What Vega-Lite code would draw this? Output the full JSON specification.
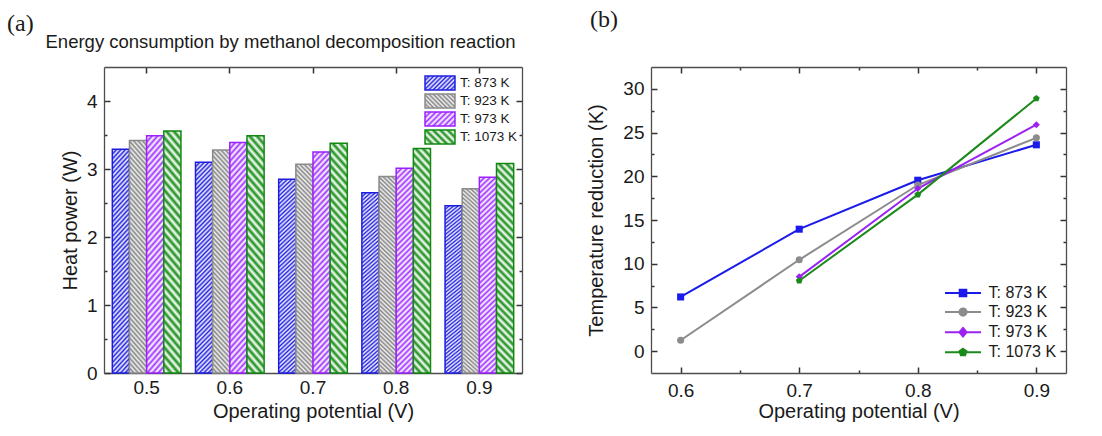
{
"$schema": "https://vega.github.io/schema/vega-lite/v6.json",
"background": "white",
"padding": {"left": 7, "top": 8, "right": 5, "bottom": 5},
"config": {
  "font": "Liberation Sans",
  "view": {"stroke": null},
  "title": {"font": "Liberation Serif", "fontSize": 24, "fontWeight": "normal", "color": "#1a1a1a"},
  "axis": {"labelFont": "Liberation Sans", "titleFont": "Liberation Sans", "labelColor": "#1a1a1a", "titleColor": "#1a1a1a", "domainColor": "#4d4d4d", "domainWidth": 1.3, "tickColor": "#333333", "tickWidth": 1.5, "grid": false, "labelFontSize": 19, "titleFontSize": 20, "titleFontWeight": "normal", "labelFlush": false},
  "legend": {"labelFont": "Liberation Sans", "labelColor": "#1a1a1a", "padding": 0}
},
"spacing": 63,
"resolve": {"scale": {"stroke": "independent", "color": "independent", "fill": "independent", "shape": "independent"}, "legend": {"stroke": "independent", "color": "independent", "fill": "independent", "shape": "independent"}},
"hconcat": [
{
  "width": 418, "height": 306,
  "title": {"text": "(a)", "anchor": "start", "frame": "group", "dx": -97, "offset": -4},
  "data": {"values": [
    {"V": "0.5", "T": "T: 873 K", "P": 3.29}, {"V": "0.5", "T": "T: 923 K", "P": 3.42}, {"V": "0.5", "T": "T: 973 K", "P": 3.49}, {"V": "0.5", "T": "T: 1073 K", "P": 3.56},
    {"V": "0.6", "T": "T: 873 K", "P": 3.10}, {"V": "0.6", "T": "T: 923 K", "P": 3.28}, {"V": "0.6", "T": "T: 973 K", "P": 3.39}, {"V": "0.6", "T": "T: 1073 K", "P": 3.49},
    {"V": "0.7", "T": "T: 873 K", "P": 2.85}, {"V": "0.7", "T": "T: 923 K", "P": 3.07}, {"V": "0.7", "T": "T: 973 K", "P": 3.25}, {"V": "0.7", "T": "T: 1073 K", "P": 3.38},
    {"V": "0.8", "T": "T: 873 K", "P": 2.65}, {"V": "0.8", "T": "T: 923 K", "P": 2.89}, {"V": "0.8", "T": "T: 973 K", "P": 3.01}, {"V": "0.8", "T": "T: 1073 K", "P": 3.30},
    {"V": "0.9", "T": "T: 873 K", "P": 2.46}, {"V": "0.9", "T": "T: 923 K", "P": 2.71}, {"V": "0.9", "T": "T: 973 K", "P": 2.88}, {"V": "0.9", "T": "T: 1073 K", "P": 3.08}
  ]},
  "layer": [
    {
      "mark": {"type": "bar", "strokeWidth": 1.5},
      "encoding": {
        "x": {"field": "V", "type": "nominal", "scale": {"paddingInner": 0.175, "paddingOuter": 0.1},
              "axis": {"orient": "bottom", "labelAngle": 0, "ticks": false, "labelPadding": 5, "title": "Operating potential (V)", "titlePadding": 4}},
        "xOffset": {"field": "T", "type": "nominal", "scale": {"domain": ["T: 873 K", "T: 923 K", "T: 973 K", "T: 1073 K"], "paddingInner": 0, "paddingOuter": 0}},
        "y": {"field": "P", "type": "quantitative", "scale": {"domain": [0, 4.5], "nice": false},
              "axis": {"orient": "left", "values": [0, 0.5, 1, 1.5, 2, 2.5, 3, 3.5, 4], "labelExpr": "datum.value % 1 === 0 ? format(datum.value, 'd') : ''", "tickSize": {"condition": {"test": "datum.value % 1 === 0", "value": -6}, "value": -3}, "labelPadding": 13, "title": "Heat power (W)", "titlePadding": 6}},
        "stroke": {"condition": [{"test": "datum.T === 'T: 873 K'", "value": "#1c1ce0"}, {"test": "datum.T === 'T: 923 K'", "value": "#8a8a8a"}, {"test": "datum.T === 'T: 973 K'", "value": "#9b1fff"}], "value": "#128812"},
        "fill": {"condition": [
          {"test": "datum.T === 'T: 873 K'", "value": {"gradient": "linear", "x1": 0, "y1": 0, "x2": 0.0897, "y2": 1.0759, "stops": [
            {"offset":0,"color":"#2424e0"},{"offset":0.01,"color":"#f4f4ff"},{"offset":0.02,"color":"#2424e0"},{"offset":0.03,"color":"#f4f4ff"},{"offset":0.04,"color":"#2424e0"},{"offset":0.05,"color":"#f4f4ff"},{"offset":0.06,"color":"#2424e0"},{"offset":0.07,"color":"#f4f4ff"},{"offset":0.08,"color":"#2424e0"},{"offset":0.09,"color":"#f4f4ff"},
            {"offset":0.1,"color":"#2424e0"},{"offset":0.11,"color":"#f4f4ff"},{"offset":0.12,"color":"#2424e0"},{"offset":0.13,"color":"#f4f4ff"},{"offset":0.14,"color":"#2424e0"},{"offset":0.15,"color":"#f4f4ff"},{"offset":0.16,"color":"#2424e0"},{"offset":0.17,"color":"#f4f4ff"},{"offset":0.18,"color":"#2424e0"},{"offset":0.19,"color":"#f4f4ff"},
            {"offset":0.2,"color":"#2424e0"},{"offset":0.21,"color":"#f4f4ff"},{"offset":0.22,"color":"#2424e0"},{"offset":0.23,"color":"#f4f4ff"},{"offset":0.24,"color":"#2424e0"},{"offset":0.25,"color":"#f4f4ff"},{"offset":0.26,"color":"#2424e0"},{"offset":0.27,"color":"#f4f4ff"},{"offset":0.28,"color":"#2424e0"},{"offset":0.29,"color":"#f4f4ff"},
            {"offset":0.3,"color":"#2424e0"},{"offset":0.31,"color":"#f4f4ff"},{"offset":0.32,"color":"#2424e0"},{"offset":0.33,"color":"#f4f4ff"},{"offset":0.34,"color":"#2424e0"},{"offset":0.35,"color":"#f4f4ff"},{"offset":0.36,"color":"#2424e0"},{"offset":0.37,"color":"#f4f4ff"},{"offset":0.38,"color":"#2424e0"},{"offset":0.39,"color":"#f4f4ff"},
            {"offset":0.4,"color":"#2424e0"},{"offset":0.41,"color":"#f4f4ff"},{"offset":0.42,"color":"#2424e0"},{"offset":0.43,"color":"#f4f4ff"},{"offset":0.44,"color":"#2424e0"},{"offset":0.45,"color":"#f4f4ff"},{"offset":0.46,"color":"#2424e0"},{"offset":0.47,"color":"#f4f4ff"},{"offset":0.48,"color":"#2424e0"},{"offset":0.49,"color":"#f4f4ff"},
            {"offset":0.5,"color":"#2424e0"},{"offset":0.51,"color":"#f4f4ff"},{"offset":0.52,"color":"#2424e0"},{"offset":0.53,"color":"#f4f4ff"},{"offset":0.54,"color":"#2424e0"},{"offset":0.55,"color":"#f4f4ff"},{"offset":0.56,"color":"#2424e0"},{"offset":0.57,"color":"#f4f4ff"},{"offset":0.58,"color":"#2424e0"},{"offset":0.59,"color":"#f4f4ff"},
            {"offset":0.6,"color":"#2424e0"},{"offset":0.61,"color":"#f4f4ff"},{"offset":0.62,"color":"#2424e0"},{"offset":0.63,"color":"#f4f4ff"},{"offset":0.64,"color":"#2424e0"},{"offset":0.65,"color":"#f4f4ff"},{"offset":0.66,"color":"#2424e0"},{"offset":0.67,"color":"#f4f4ff"},{"offset":0.68,"color":"#2424e0"},{"offset":0.69,"color":"#f4f4ff"},
            {"offset":0.7,"color":"#2424e0"},{"offset":0.71,"color":"#f4f4ff"},{"offset":0.72,"color":"#2424e0"},{"offset":0.73,"color":"#f4f4ff"},{"offset":0.74,"color":"#2424e0"},{"offset":0.75,"color":"#f4f4ff"},{"offset":0.76,"color":"#2424e0"},{"offset":0.77,"color":"#f4f4ff"},{"offset":0.78,"color":"#2424e0"},{"offset":0.79,"color":"#f4f4ff"},
            {"offset":0.8,"color":"#2424e0"},{"offset":0.81,"color":"#f4f4ff"},{"offset":0.82,"color":"#2424e0"},{"offset":0.83,"color":"#f4f4ff"},{"offset":0.84,"color":"#2424e0"},{"offset":0.85,"color":"#f4f4ff"},{"offset":0.86,"color":"#2424e0"},{"offset":0.87,"color":"#f4f4ff"},{"offset":0.88,"color":"#2424e0"},{"offset":0.89,"color":"#f4f4ff"},
            {"offset":0.9,"color":"#2424e0"},{"offset":0.91,"color":"#f4f4ff"},{"offset":0.92,"color":"#2424e0"},{"offset":0.93,"color":"#f4f4ff"},{"offset":0.94,"color":"#2424e0"},{"offset":0.95,"color":"#f4f4ff"},{"offset":0.96,"color":"#2424e0"},{"offset":0.97,"color":"#f4f4ff"},{"offset":0.98,"color":"#2424e0"},{"offset":0.99,"color":"#f4f4ff"},{"offset":1,"color":"#2424e0"}]}},
          {"test": "datum.T === 'T: 923 K'", "value": {"gradient": "linear", "x1": 1, "y1": 0, "x2": 0.9103, "y2": 1.0759, "stops": [
            {"offset":0,"color":"#858585"},{"offset":0.01,"color":"#f2f2f2"},{"offset":0.02,"color":"#858585"},{"offset":0.03,"color":"#f2f2f2"},{"offset":0.04,"color":"#858585"},{"offset":0.05,"color":"#f2f2f2"},{"offset":0.06,"color":"#858585"},{"offset":0.07,"color":"#f2f2f2"},{"offset":0.08,"color":"#858585"},{"offset":0.09,"color":"#f2f2f2"},
            {"offset":0.1,"color":"#858585"},{"offset":0.11,"color":"#f2f2f2"},{"offset":0.12,"color":"#858585"},{"offset":0.13,"color":"#f2f2f2"},{"offset":0.14,"color":"#858585"},{"offset":0.15,"color":"#f2f2f2"},{"offset":0.16,"color":"#858585"},{"offset":0.17,"color":"#f2f2f2"},{"offset":0.18,"color":"#858585"},{"offset":0.19,"color":"#f2f2f2"},
            {"offset":0.2,"color":"#858585"},{"offset":0.21,"color":"#f2f2f2"},{"offset":0.22,"color":"#858585"},{"offset":0.23,"color":"#f2f2f2"},{"offset":0.24,"color":"#858585"},{"offset":0.25,"color":"#f2f2f2"},{"offset":0.26,"color":"#858585"},{"offset":0.27,"color":"#f2f2f2"},{"offset":0.28,"color":"#858585"},{"offset":0.29,"color":"#f2f2f2"},
            {"offset":0.3,"color":"#858585"},{"offset":0.31,"color":"#f2f2f2"},{"offset":0.32,"color":"#858585"},{"offset":0.33,"color":"#f2f2f2"},{"offset":0.34,"color":"#858585"},{"offset":0.35,"color":"#f2f2f2"},{"offset":0.36,"color":"#858585"},{"offset":0.37,"color":"#f2f2f2"},{"offset":0.38,"color":"#858585"},{"offset":0.39,"color":"#f2f2f2"},
            {"offset":0.4,"color":"#858585"},{"offset":0.41,"color":"#f2f2f2"},{"offset":0.42,"color":"#858585"},{"offset":0.43,"color":"#f2f2f2"},{"offset":0.44,"color":"#858585"},{"offset":0.45,"color":"#f2f2f2"},{"offset":0.46,"color":"#858585"},{"offset":0.47,"color":"#f2f2f2"},{"offset":0.48,"color":"#858585"},{"offset":0.49,"color":"#f2f2f2"},
            {"offset":0.5,"color":"#858585"},{"offset":0.51,"color":"#f2f2f2"},{"offset":0.52,"color":"#858585"},{"offset":0.53,"color":"#f2f2f2"},{"offset":0.54,"color":"#858585"},{"offset":0.55,"color":"#f2f2f2"},{"offset":0.56,"color":"#858585"},{"offset":0.57,"color":"#f2f2f2"},{"offset":0.58,"color":"#858585"},{"offset":0.59,"color":"#f2f2f2"},
            {"offset":0.6,"color":"#858585"},{"offset":0.61,"color":"#f2f2f2"},{"offset":0.62,"color":"#858585"},{"offset":0.63,"color":"#f2f2f2"},{"offset":0.64,"color":"#858585"},{"offset":0.65,"color":"#f2f2f2"},{"offset":0.66,"color":"#858585"},{"offset":0.67,"color":"#f2f2f2"},{"offset":0.68,"color":"#858585"},{"offset":0.69,"color":"#f2f2f2"},
            {"offset":0.7,"color":"#858585"},{"offset":0.71,"color":"#f2f2f2"},{"offset":0.72,"color":"#858585"},{"offset":0.73,"color":"#f2f2f2"},{"offset":0.74,"color":"#858585"},{"offset":0.75,"color":"#f2f2f2"},{"offset":0.76,"color":"#858585"},{"offset":0.77,"color":"#f2f2f2"},{"offset":0.78,"color":"#858585"},{"offset":0.79,"color":"#f2f2f2"},
            {"offset":0.8,"color":"#858585"},{"offset":0.81,"color":"#f2f2f2"},{"offset":0.82,"color":"#858585"},{"offset":0.83,"color":"#f2f2f2"},{"offset":0.84,"color":"#858585"},{"offset":0.85,"color":"#f2f2f2"},{"offset":0.86,"color":"#858585"},{"offset":0.87,"color":"#f2f2f2"},{"offset":0.88,"color":"#858585"},{"offset":0.89,"color":"#f2f2f2"},
            {"offset":0.9,"color":"#858585"},{"offset":0.91,"color":"#f2f2f2"},{"offset":0.92,"color":"#858585"},{"offset":0.93,"color":"#f2f2f2"},{"offset":0.94,"color":"#858585"},{"offset":0.95,"color":"#f2f2f2"},{"offset":0.96,"color":"#858585"},{"offset":0.97,"color":"#f2f2f2"},{"offset":0.98,"color":"#858585"},{"offset":0.99,"color":"#f2f2f2"},{"offset":1,"color":"#858585"}]}},
          {"test": "datum.T === 'T: 973 K'", "value": {"gradient": "linear", "x1": 0, "y1": 0, "x2": 0.0897, "y2": 1.0759, "stops": [
            {"offset":0,"color":"#a235ff"},{"offset":0.0125,"color":"#fff"},{"offset":0.025,"color":"#a235ff"},{"offset":0.0375,"color":"#fff"},{"offset":0.05,"color":"#a235ff"},{"offset":0.0625,"color":"#fff"},{"offset":0.075,"color":"#a235ff"},{"offset":0.0875,"color":"#fff"},
            {"offset":0.1,"color":"#a235ff"},{"offset":0.1125,"color":"#fff"},{"offset":0.125,"color":"#a235ff"},{"offset":0.1375,"color":"#fff"},{"offset":0.15,"color":"#a235ff"},{"offset":0.1625,"color":"#fff"},{"offset":0.175,"color":"#a235ff"},{"offset":0.1875,"color":"#fff"},
            {"offset":0.2,"color":"#a235ff"},{"offset":0.2125,"color":"#fff"},{"offset":0.225,"color":"#a235ff"},{"offset":0.2375,"color":"#fff"},{"offset":0.25,"color":"#a235ff"},{"offset":0.2625,"color":"#fff"},{"offset":0.275,"color":"#a235ff"},{"offset":0.2875,"color":"#fff"},
            {"offset":0.3,"color":"#a235ff"},{"offset":0.3125,"color":"#fff"},{"offset":0.325,"color":"#a235ff"},{"offset":0.3375,"color":"#fff"},{"offset":0.35,"color":"#a235ff"},{"offset":0.3625,"color":"#fff"},{"offset":0.375,"color":"#a235ff"},{"offset":0.3875,"color":"#fff"},
            {"offset":0.4,"color":"#a235ff"},{"offset":0.4125,"color":"#fff"},{"offset":0.425,"color":"#a235ff"},{"offset":0.4375,"color":"#fff"},{"offset":0.45,"color":"#a235ff"},{"offset":0.4625,"color":"#fff"},{"offset":0.475,"color":"#a235ff"},{"offset":0.4875,"color":"#fff"},
            {"offset":0.5,"color":"#a235ff"},{"offset":0.5125,"color":"#fff"},{"offset":0.525,"color":"#a235ff"},{"offset":0.5375,"color":"#fff"},{"offset":0.55,"color":"#a235ff"},{"offset":0.5625,"color":"#fff"},{"offset":0.575,"color":"#a235ff"},{"offset":0.5875,"color":"#fff"},
            {"offset":0.6,"color":"#a235ff"},{"offset":0.6125,"color":"#fff"},{"offset":0.625,"color":"#a235ff"},{"offset":0.6375,"color":"#fff"},{"offset":0.65,"color":"#a235ff"},{"offset":0.6625,"color":"#fff"},{"offset":0.675,"color":"#a235ff"},{"offset":0.6875,"color":"#fff"},
            {"offset":0.7,"color":"#a235ff"},{"offset":0.7125,"color":"#fff"},{"offset":0.725,"color":"#a235ff"},{"offset":0.7375,"color":"#fff"},{"offset":0.75,"color":"#a235ff"},{"offset":0.7625,"color":"#fff"},{"offset":0.775,"color":"#a235ff"},{"offset":0.7875,"color":"#fff"},
            {"offset":0.8,"color":"#a235ff"},{"offset":0.8125,"color":"#fff"},{"offset":0.825,"color":"#a235ff"},{"offset":0.8375,"color":"#fff"},{"offset":0.85,"color":"#a235ff"},{"offset":0.8625,"color":"#fff"},{"offset":0.875,"color":"#a235ff"},{"offset":0.8875,"color":"#fff"},
            {"offset":0.9,"color":"#a235ff"},{"offset":0.9125,"color":"#fff"},{"offset":0.925,"color":"#a235ff"},{"offset":0.9375,"color":"#fff"},{"offset":0.95,"color":"#a235ff"},{"offset":0.9625,"color":"#fff"},{"offset":0.975,"color":"#a235ff"},{"offset":0.9875,"color":"#fff"},{"offset":1,"color":"#a235ff"}]}}
        ],
        "value": {"gradient": "linear", "x1": 1, "y1": 0, "x2": 0.9103, "y2": 1.0759, "stops": [
            {"offset":0,"color":"#158c15"},{"offset":0.0167,"color":"#fff"},{"offset":0.0333,"color":"#158c15"},{"offset":0.05,"color":"#fff"},{"offset":0.0667,"color":"#158c15"},{"offset":0.0833,"color":"#fff"},
            {"offset":0.1,"color":"#158c15"},{"offset":0.1167,"color":"#fff"},{"offset":0.1333,"color":"#158c15"},{"offset":0.15,"color":"#fff"},{"offset":0.1667,"color":"#158c15"},{"offset":0.1833,"color":"#fff"},
            {"offset":0.2,"color":"#158c15"},{"offset":0.2167,"color":"#fff"},{"offset":0.2333,"color":"#158c15"},{"offset":0.25,"color":"#fff"},{"offset":0.2667,"color":"#158c15"},{"offset":0.2833,"color":"#fff"},
            {"offset":0.3,"color":"#158c15"},{"offset":0.3167,"color":"#fff"},{"offset":0.3333,"color":"#158c15"},{"offset":0.35,"color":"#fff"},{"offset":0.3667,"color":"#158c15"},{"offset":0.3833,"color":"#fff"},
            {"offset":0.4,"color":"#158c15"},{"offset":0.4167,"color":"#fff"},{"offset":0.4333,"color":"#158c15"},{"offset":0.45,"color":"#fff"},{"offset":0.4667,"color":"#158c15"},{"offset":0.4833,"color":"#fff"},
            {"offset":0.5,"color":"#158c15"},{"offset":0.5167,"color":"#fff"},{"offset":0.5333,"color":"#158c15"},{"offset":0.55,"color":"#fff"},{"offset":0.5667,"color":"#158c15"},{"offset":0.5833,"color":"#fff"},
            {"offset":0.6,"color":"#158c15"},{"offset":0.6167,"color":"#fff"},{"offset":0.6333,"color":"#158c15"},{"offset":0.65,"color":"#fff"},{"offset":0.6667,"color":"#158c15"},{"offset":0.6833,"color":"#fff"},
            {"offset":0.7,"color":"#158c15"},{"offset":0.7167,"color":"#fff"},{"offset":0.7333,"color":"#158c15"},{"offset":0.75,"color":"#fff"},{"offset":0.7667,"color":"#158c15"},{"offset":0.7833,"color":"#fff"},
            {"offset":0.8,"color":"#158c15"},{"offset":0.8167,"color":"#fff"},{"offset":0.8333,"color":"#158c15"},{"offset":0.85,"color":"#fff"},{"offset":0.8667,"color":"#158c15"},{"offset":0.8833,"color":"#fff"},
            {"offset":0.9,"color":"#158c15"},{"offset":0.9167,"color":"#fff"},{"offset":0.9333,"color":"#158c15"},{"offset":0.95,"color":"#fff"},{"offset":0.9667,"color":"#158c15"},{"offset":0.9833,"color":"#fff"},{"offset":1,"color":"#158c15"}]}}
      }
    },
    {
      "mark": {"type": "line", "opacity": 0, "strokeWidth": 1.5},
      "encoding": {
        "x": {"field": "V", "type": "nominal", "axis": {"orient": "top", "labels": false, "ticks": true, "tickSize": -6, "title": "Energy consumption by methanol decomposition reaction", "titleFontSize": 18.5, "titleX": 176, "titleY": -20, "titleAlign": "center", "titleBaseline": "alphabetic"}},
        "y": {"field": "P", "type": "quantitative", "axis": {"orient": "right", "labels": false, "values": [0, 0.5, 1, 1.5, 2, 2.5, 3, 3.5, 4], "tickSize": {"condition": {"test": "datum.value % 1 === 0", "value": -6}, "value": -3}, "title": null}},
        "stroke": {"field": "T", "type": "nominal", "scale": {"domain": ["T: 873 K", "T: 923 K", "T: 973 K", "T: 1073 K"], "range": ["#1c1ce0", "#8a8a8a", "#9b1fff", "#128812"]},
          "legend": {"title": null, "orient": "none", "legendX": 328, "legendY": 8, "symbolType": "M-2.14,-1H2.14V1H-2.14Z", "symbolSize": 196, "symbolStrokeWidth": 1.5, "symbolOpacity": 1, "labelFontSize": 13.5, "labelOffset": 12, "rowPadding": -5,
            "encode": {"symbols": {"update": {"opacity": {"value": 1}, "strokeWidth": {"value": 1.5}, "fill": {"signal": "datum.value === 'T: 873 K' ? {gradient:'linear',x1:0,y1:0,x2:1.204,y2:0.562,stops:[{offset:0,color:'#2424e0'},{offset:0.05,color:'#f4f4ff'},{offset:0.1,color:'#2424e0'},{offset:0.15,color:'#f4f4ff'},{offset:0.2,color:'#2424e0'},{offset:0.25,color:'#f4f4ff'},{offset:0.3,color:'#2424e0'},{offset:0.35,color:'#f4f4ff'},{offset:0.4,color:'#2424e0'},{offset:0.45,color:'#f4f4ff'},{offset:0.5,color:'#2424e0'},{offset:0.55,color:'#f4f4ff'},{offset:0.6,color:'#2424e0'},{offset:0.65,color:'#f4f4ff'},{offset:0.7,color:'#2424e0'},{offset:0.75,color:'#f4f4ff'},{offset:0.8,color:'#2424e0'},{offset:0.85,color:'#f4f4ff'},{offset:0.9,color:'#2424e0'},{offset:0.95,color:'#f4f4ff'},{offset:1,color:'#2424e0'}]} : datum.value === 'T: 923 K' ? {gradient:'linear',x1:1,y1:0,x2:-0.204,y2:0.562,stops:[{offset:0,color:'#858585'},{offset:0.05,color:'#f2f2f2'},{offset:0.1,color:'#858585'},{offset:0.15,color:'#f2f2f2'},{offset:0.2,color:'#858585'},{offset:0.25,color:'#f2f2f2'},{offset:0.3,color:'#858585'},{offset:0.35,color:'#f2f2f2'},{offset:0.4,color:'#858585'},{offset:0.45,color:'#f2f2f2'},{offset:0.5,color:'#858585'},{offset:0.55,color:'#f2f2f2'},{offset:0.6,color:'#858585'},{offset:0.65,color:'#f2f2f2'},{offset:0.7,color:'#858585'},{offset:0.75,color:'#f2f2f2'},{offset:0.8,color:'#858585'},{offset:0.85,color:'#f2f2f2'},{offset:0.9,color:'#858585'},{offset:0.95,color:'#f2f2f2'},{offset:1,color:'#858585'}]} : datum.value === 'T: 973 K' ? {gradient:'linear',x1:0,y1:0,x2:1.204,y2:0.562,stops:[{offset:0,color:'#a235ff'},{offset:0.0625,color:'#fff'},{offset:0.125,color:'#a235ff'},{offset:0.1875,color:'#fff'},{offset:0.25,color:'#a235ff'},{offset:0.3125,color:'#fff'},{offset:0.375,color:'#a235ff'},{offset:0.4375,color:'#fff'},{offset:0.5,color:'#a235ff'},{offset:0.5625,color:'#fff'},{offset:0.625,color:'#a235ff'},{offset:0.6875,color:'#fff'},{offset:0.75,color:'#a235ff'},{offset:0.8125,color:'#fff'},{offset:0.875,color:'#a235ff'},{offset:0.9375,color:'#fff'},{offset:1,color:'#a235ff'}]} : {gradient:'linear',x1:1,y1:0,x2:-0.204,y2:0.562,stops:[{offset:0,color:'#158c15'},{offset:0.0833,color:'#fff'},{offset:0.1667,color:'#158c15'},{offset:0.25,color:'#fff'},{offset:0.3333,color:'#158c15'},{offset:0.4167,color:'#fff'},{offset:0.5,color:'#158c15'},{offset:0.5833,color:'#fff'},{offset:0.6667,color:'#158c15'},{offset:0.75,color:'#fff'},{offset:0.8333,color:'#158c15'},{offset:0.9167,color:'#fff'},{offset:1,color:'#158c15'}]}"}}}}}}
      }
    }
  ],
  "resolve": {"axis": {"x": "independent", "y": "independent"}}
},
{
  "width": 415, "height": 306,
  "title": {"text": "(b)", "anchor": "start", "frame": "group", "dx": -61, "offset": 34},
  "data": {"values": [
    {"V": 0.6, "T": "T: 873 K", "R": 6.2}, {"V": 0.7, "T": "T: 873 K", "R": 13.95}, {"V": 0.8, "T": "T: 873 K", "R": 19.55}, {"V": 0.9, "T": "T: 873 K", "R": 23.6},
    {"V": 0.6, "T": "T: 923 K", "R": 1.25}, {"V": 0.7, "T": "T: 923 K", "R": 10.45}, {"V": 0.8, "T": "T: 923 K", "R": 19.0}, {"V": 0.9, "T": "T: 923 K", "R": 24.4},
    {"V": 0.7, "T": "T: 973 K", "R": 8.5}, {"V": 0.8, "T": "T: 973 K", "R": 18.6}, {"V": 0.9, "T": "T: 973 K", "R": 25.9},
    {"V": 0.7, "T": "T: 1073 K", "R": 8.05}, {"V": 0.8, "T": "T: 1073 K", "R": 17.9}, {"V": 0.9, "T": "T: 1073 K", "R": 28.9}
  ]},
  "layer": [
    {
      "mark": {"type": "line", "strokeWidth": 2},
      "encoding": {
        "x": {"field": "V", "type": "quantitative", "scale": {"domain": [0.575, 0.925], "nice": false, "zero": false},
              "axis": {"orient": "bottom", "values": [0.6, 0.65, 0.7, 0.75, 0.8, 0.85, 0.9], "labelExpr": "abs(datum.value*10 - round(datum.value*10)) < 0.001 ? format(datum.value, '.1f') : ''", "tickSize": {"condition": {"test": "abs(datum.value*10 - round(datum.value*10)) < 0.001", "value": -6}, "value": -3}, "labelPadding": 14, "title": "Operating potential (V)", "titlePadding": 1}},
        "y": {"field": "R", "type": "quantitative", "scale": {"domain": [-2.5, 32.5], "nice": false, "zero": false},
              "axis": {"orient": "left", "values": [0, 2.5, 5, 7.5, 10, 12.5, 15, 17.5, 20, 22.5, 25, 27.5, 30], "labelExpr": "datum.value % 5 === 0 ? datum.label : ''", "tickSize": {"condition": {"test": "datum.value % 5 === 0", "value": -6}, "value": -3}, "labelPadding": 13, "title": "Temperature reduction (K)", "titlePadding": 16}},
        "color": {"field": "T", "type": "nominal", "scale": {"domain": ["T: 873 K", "T: 923 K", "T: 973 K", "T: 1073 K"], "range": ["#1a1aeb", "#8c8c8c", "#9b22f0", "#1b8a1b"]},
          "legend": {"title": null, "orient": "none", "legendX": 304, "legendY": 218, "symbolSize": 144, "symbolStrokeWidth": 2, "labelFontSize": 16, "labelOffset": 17.5, "rowPadding": 3.1,
            "encode": {"symbols": {"update": {
              "shape": {"signal": "datum.value === 'T: 873 K' ? 'M-3,0H3M-0.55,-0.55H0.55V0.55H-0.55Z' : datum.value === 'T: 923 K' ? 'M-3,0H3M-0.6,0A0.6,0.6,0,1,0,0.6,0A0.6,0.6,0,1,0,-0.6,0Z' : datum.value === 'T: 973 K' ? 'M-3,0H3M0,-0.7L0.6,0L0,0.7L-0.6,0Z' : 'M-3,0H3M0,-0.6L0.571,-0.185L0.353,0.485L-0.353,0.485L-0.571,-0.185Z'"},
              "fill": {"signal": "datum.value === 'T: 873 K' ? '#1a1aeb' : datum.value === 'T: 923 K' ? '#8c8c8c' : datum.value === 'T: 973 K' ? '#9b22f0' : '#1b8a1b'"},
              "stroke": {"signal": "datum.value === 'T: 873 K' ? '#1a1aeb' : datum.value === 'T: 923 K' ? '#8c8c8c' : datum.value === 'T: 973 K' ? '#9b22f0' : '#1b8a1b'"},
              "strokeWidth": {"value": 2}}}}}}
      }
    },
    {
      "mark": {"type": "point", "filled": true, "opacity": 1, "size": 50},
      "encoding": {
        "x": {"field": "V", "type": "quantitative", "axis": {"orient": "top", "labels": false, "values": [0.6, 0.65, 0.7, 0.75, 0.8, 0.85, 0.9], "tickSize": {"condition": {"test": "abs(datum.value*10 - round(datum.value*10)) < 0.001", "value": -6}, "value": -3}, "title": null}},
        "y": {"field": "R", "type": "quantitative", "axis": {"orient": "right", "labels": false, "values": [0, 2.5, 5, 7.5, 10, 12.5, 15, 17.5, 20, 22.5, 25, 27.5, 30], "tickSize": {"condition": {"test": "datum.value % 5 === 0", "value": -6}, "value": -3}, "title": null}},
        "fill": {"condition": [{"test": "datum.T === 'T: 873 K'", "value": "#1a1aeb"}, {"test": "datum.T === 'T: 923 K'", "value": "#8c8c8c"}, {"test": "datum.T === 'T: 973 K'", "value": "#9b22f0"}], "value": "#1b8a1b"},
        "shape": {"condition": [{"test": "datum.T === 'T: 873 K'", "value": "square"}, {"test": "datum.T === 'T: 923 K'", "value": "circle"}, {"test": "datum.T === 'T: 973 K'", "value": "diamond"}], "value": "M0,-1L0.951,-0.309L0.588,0.809L-0.588,0.809L-0.951,-0.309Z"}
      }
    }
  ],
  "resolve": {"axis": {"x": "independent", "y": "independent"}}
}
]
}
